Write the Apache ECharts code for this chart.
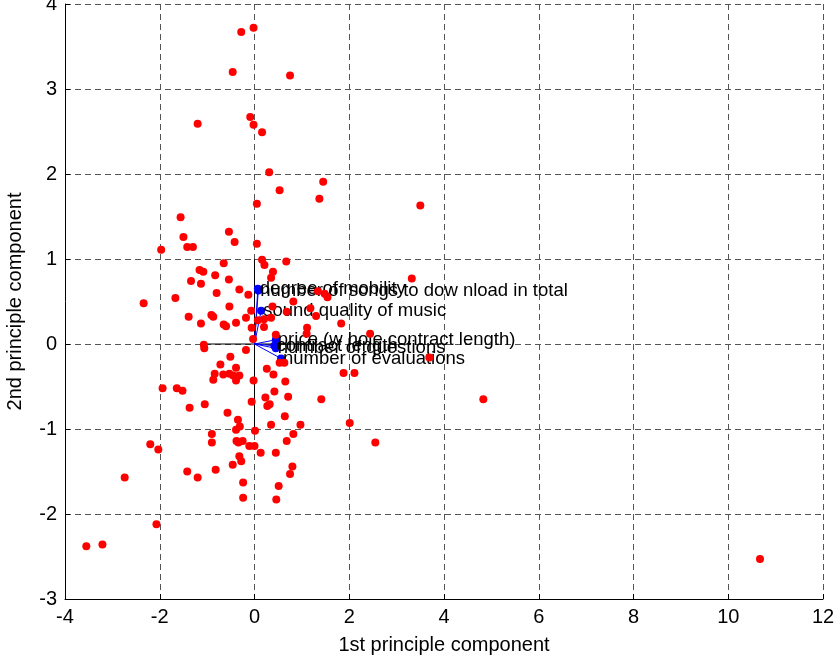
<!DOCTYPE html>
<html>
<head>
<meta charset="utf-8">
<script src="https://cdn.jsdelivr.net/npm/echarts@6/dist/echarts.min.js"></script>
<style>html,body{margin:0;padding:0;background:#fff}#c{width:838px;height:662px}</style>
</head>
<body>
<div id="c"></div>
<script>
// Scores (1st, 2nd principle component)
var scoreX = [-0.28,-0.02,-0.46,0.75,-1.20,-0.09,-0.02,0.16,0.31,0.53,1.45,1.37,0.05,-1.56,-1.50,-0.54,-0.42,0.05,-1.97,-1.42,-1.30,-0.65,0.16,0.21,0.67,0.39,0.35,-1.16,-1.08,-0.83,-0.54,-1.34,-1.13,-0.32,-0.80,-0.13,1.34,1.48,1.54,-2.34,-1.67,0.82,-0.53,0.38,0.68,1.18,1.30,-0.07,-1.39,-0.91,-0.87,-0.18,0.20,0.35,-1.13,-0.65,-0.60,-0.39,0.07,0.20,-0.06,1.11,1.10,1.83,2.44,-0.03,0.45,-1.07,-1.06,-0.18,-0.51,-0.72,-0.39,-0.84,-0.66,-0.53,-0.45,-0.32,-0.39,-0.87,-0.02,-1.94,-1.64,-1.52,0.26,0.40,0.65,1.88,2.11,0.42,0.23,0.71,1.41,0.27,0.32,-0.06,-1.37,-1.05,-0.57,0.64,-0.35,-0.31,-0.39,0.01,0.35,0.97,2.01,0.82,-0.90,-0.90,-0.38,-0.34,-0.25,-0.11,0.00,0.13,0.45,0.68,2.55,-2.20,-2.03,-0.32,-0.28,-0.46,-1.42,-1.20,-0.82,-2.74,0.80,0.75,-0.24,0.51,-0.24,0.46,-2.07,-3.55,-3.21,3.50,3.32,3.69,4.83,10.67,0.53,0.63];
var scoreY = [3.67,3.72,3.20,3.16,2.59,2.67,2.58,2.49,2.02,1.81,1.91,1.71,1.65,1.49,1.26,1.32,1.20,1.18,1.11,1.14,1.14,0.95,0.99,0.93,0.97,0.85,0.78,0.87,0.85,0.81,0.76,0.74,0.71,0.64,0.60,0.58,0.62,0.59,0.55,0.48,0.54,0.50,0.44,0.44,0.38,0.42,0.33,0.39,0.32,0.34,0.32,0.31,0.29,0.31,0.24,0.23,0.21,0.25,0.28,0.20,0.19,0.19,0.12,0.24,0.12,0.06,0.11,-0.01,-0.05,-0.07,-0.15,-0.24,-0.28,-0.35,-0.36,-0.35,-0.37,-0.37,-0.43,-0.42,-0.43,-0.52,-0.52,-0.55,-0.29,-0.36,-0.44,-0.34,-0.34,-0.56,-0.63,-0.62,-0.65,-0.73,-0.71,-0.68,-0.75,-0.71,-0.81,-0.85,-0.89,-0.97,-1.01,-1.02,-0.95,-0.95,-0.93,-1.06,-1.06,-1.16,-1.14,-1.16,-1.14,-1.20,-1.20,-1.28,-1.28,-1.14,-1.16,-1.18,-1.24,-1.32,-1.38,-1.42,-1.50,-1.57,-1.48,-1.57,-1.44,-1.53,-1.63,-1.67,-1.81,-1.83,-2.12,-2.38,-2.36,1.63,0.77,-0.16,-0.65,-2.53,-0.22,-0.22];

// Variable loadings (biplot vectors)
var varNames = ["degree of mobility","number of songs to dow nload in total","sound quality of music","price (w hole contract length)","contract length","number of questions","number of evaluations"];
var loadX = [0.07,0.08,0.14,0.45,0.42,0.45,0.56];
var loadY = [0.65,0.63,0.39,0.05,-0.02,-0.05,-0.17];

var xTicks = [-4,-2,0,2,4,6,8,10,12];
var yTicks = [-3,-2,-1,0,1,2,3,4];

var font = 'Arial, "Liberation Sans", sans-serif';
var chart = echarts.init(document.getElementById('c'));

var series = [];
// biplot axis lines
series.push({type:'line', data:[[-1.1,0],[1.1,0]], symbol:'none', silent:true, z:1,
  lineStyle:{color:'#000', width:1}});
series.push({type:'line', data:[[0,-1],[0,1]], symbol:'none', silent:true, z:1,
  lineStyle:{color:'#000', width:1}});
// vectors
for (var i = 0; i < varNames.length; i++) {
  series.push({type:'line', data:[[0,0],[loadX[i],loadY[i]]], symbol:'none', silent:true, z:2,
    lineStyle:{color:'#0000ff', width:1}});
}
series.push({type:'scatter', z:2, symbolSize:8, itemStyle:{color:'#0000ff', opacity:1},
  data: varNames.map(function(n,i){return {name:n, value:[loadX[i],loadY[i]]};}),
  label:{show:true, position:'right', distance:-2, formatter:'{b}', color:'#000',
    fontFamily:font, fontSize:18.5}
});
series.push({type:'scatter', z:3, symbolSize:8, itemStyle:{color:'#ff0000', opacity:1},
  data: scoreX.map(function(x,i){return [x, scoreY[i]];})
});

chart.setOption({
  animation:false,
  backgroundColor:'#fff',
  grid:{left:65, right:15, top:4, bottom:63, containLabel:false, outerBoundsMode:'none'},
  xAxis:{type:'value', min:-4, max:12, interval:2,
    name:'1st principle component', nameLocation:'middle', nameGap:36,
    nameTextStyle:{color:'#000', fontFamily:font, fontSize:20},
    axisLine:{show:true, onZero:false, lineStyle:{color:'#000', width:1}},
    axisTick:{show:true, inside:true, length:5, lineStyle:{color:'#000'}},
    axisLabel:{color:'#000', fontFamily:font, fontSize:20, margin:8},
    splitLine:{show:true, lineStyle:{color:'#555', type:[6,4], width:1}}
  },
  yAxis:{type:'value', min:-3, max:4, interval:1,
    name:'2nd principle component', nameLocation:'middle', nameGap:40,
    nameTextStyle:{color:'#000', fontFamily:font, fontSize:20},
    axisLine:{show:true, onZero:false, lineStyle:{color:'#000', width:1}},
    axisTick:{show:true, inside:true, length:5, lineStyle:{color:'#000'}},
    axisLabel:{color:'#000', fontFamily:font, fontSize:20, margin:8},
    splitLine:{show:true, lineStyle:{color:'#555', type:[6,4], width:1}}
  },
  series: series
});
</script>
</body>
</html>
